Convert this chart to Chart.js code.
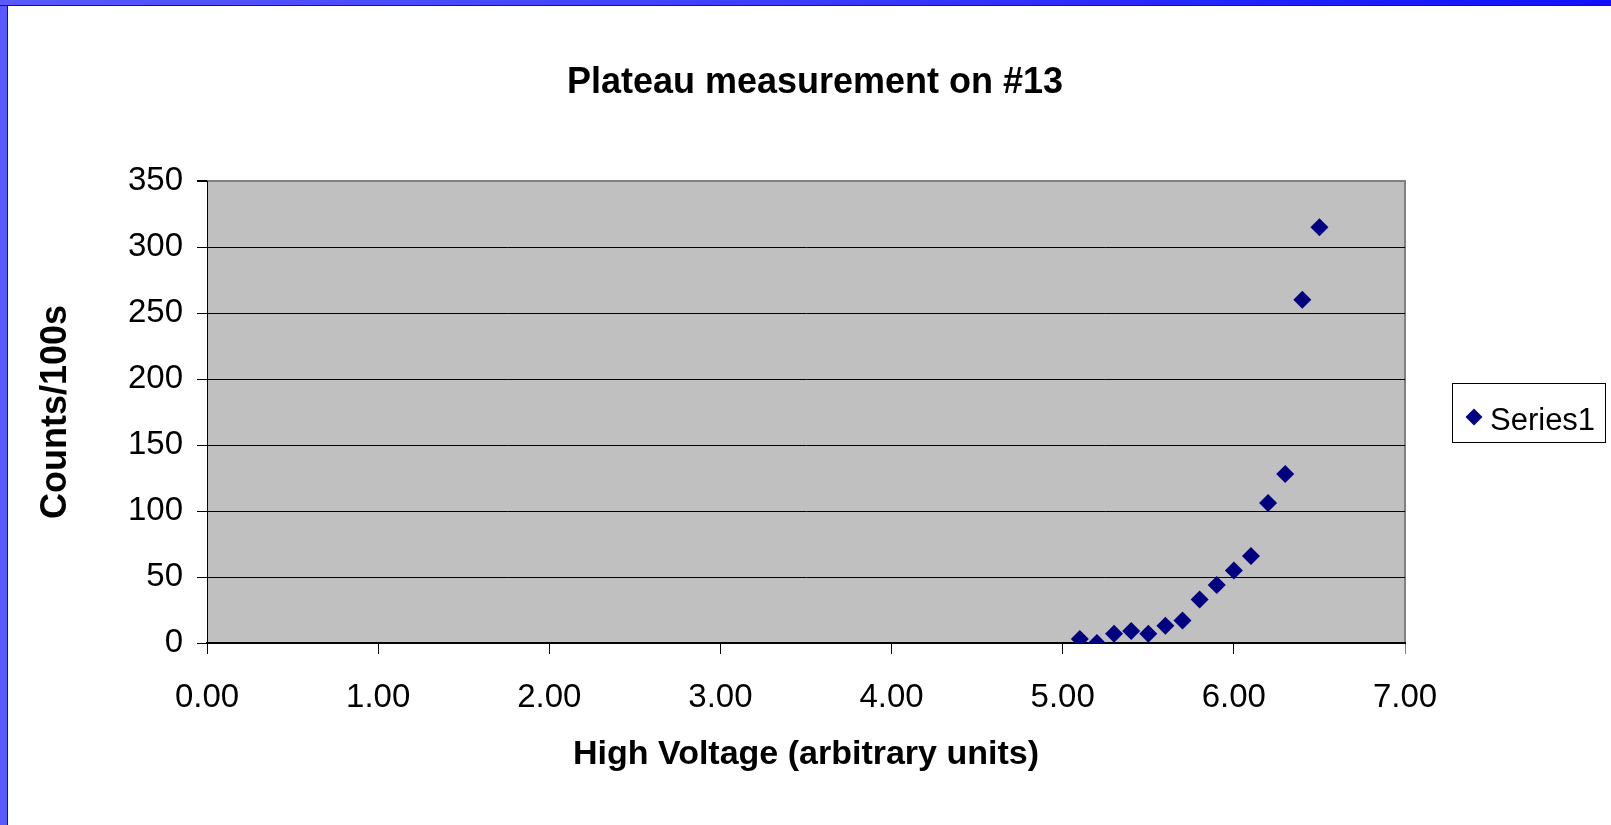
<!DOCTYPE html>
<html>
<head>
<meta charset="utf-8">
<script src="https://cdn.jsdelivr.net/npm/chart.js@4/dist/chart.umd.min.js"></script>
<style>
  html, body { margin: 0; padding: 0; background: #fff; }
  body { width: 1611px; height: 825px; position: relative; overflow: hidden; }
  #plateau { position: absolute; left: 0; top: 0; }
  .edge-left { position: absolute; left: 0; top: 0; width: 7px; height: 825px;
    background: #5a5aff; border-right: 1.5px solid #1c1c3c; }
  .edge-top { position: absolute; left: 0; top: 0; width: 1611px; height: 5px;
    background: linear-gradient(to right, #5a5aff, #3c3cff 50%, #1010ff);
    border-bottom: 1.5px solid #1c1c3c; }
</style>
</head>
<body>
<canvas id="plateau" width="1611" height="825"></canvas>
<div class="edge-left"></div>
<div class="edge-top"></div>
<script>
// high voltage (arbitrary units) and counts per 100 s
const voltage = [5.1, 5.2, 5.3, 5.4, 5.5, 5.6, 5.7, 5.8, 5.9, 6.0, 6.1, 6.2, 6.3, 6.4, 6.5];
const counts = [3, 0, 7, 9, 7, 13, 17, 33, 44, 55, 66, 106, 128, 260, 315];
const xTickLabels = ['0.00', '1.00', '2.00', '3.00', '4.00', '5.00', '6.00', '7.00'];
const yTickLabels = ['0', '50', '100', '150', '200', '250', '300', '350'];
const chartTitle = 'Plateau measurement on #13';

const FONT = '"Liberation Sans", Arial, sans-serif';

// gray plot area with its gray top/right edge, the title and the boxed legend
const plotBox = {
    id: 'plotBox',
    beforeDraw(chart) {
        const {ctx, chartArea: a} = chart;
        ctx.save();
        ctx.fillStyle = '#c0c0c0';
        ctx.fillRect(a.left, a.top, a.right - a.left, a.bottom - a.top);
        ctx.strokeStyle = '#808080';
        ctx.lineWidth = 2;
        ctx.beginPath();
        ctx.moveTo(a.left, a.top);
        ctx.lineTo(a.right, a.top);
        ctx.lineTo(a.right, a.bottom);
        ctx.stroke();
        ctx.restore();
    },
    afterDraw(chart) {
        const ctx = chart.ctx;
        const ds = chart.data.datasets[0];
        ctx.save();
        ctx.fillStyle = '#000';
        ctx.font = 'bold 36px ' + FONT;
        ctx.textAlign = 'center';
        ctx.textBaseline = 'middle';
        ctx.fillText(chartTitle, 815, 83);

        ctx.textAlign = 'left';
        ctx.fillStyle = '#fff';
        ctx.strokeStyle = '#000';
        ctx.lineWidth = 1;
        ctx.fillRect(1452.5, 383.5, 153, 59);
        ctx.strokeRect(1452.5, 383.5, 153, 59);
        ctx.fillStyle = ds.backgroundColor;
        Chart.helpers.drawPoint(ctx, {pointStyle: 'rectRot', radius: 8.5, rotation: 0, borderWidth: 0}, 1474, 417);
        ctx.fillStyle = '#000';
        ctx.font = '31px ' + FONT;
        ctx.textBaseline = 'alphabetic';
        ctx.fillText(ds.label, 1490, 430);
        ctx.restore();
    }
};

new Chart(document.getElementById('plateau'), {
    type: 'scatter',
    data: {
        datasets: [{
            label: 'Series1',
            data: voltage.map((v, i) => ({x: v, y: counts[i]})),
            backgroundColor: '#000080',
            borderColor: '#000080',
            pointStyle: 'rectRot',
            pointRadius: 9,
            pointBorderWidth: 0
        }]
    },
    options: {
        responsive: false,
        animation: false,
        layout: {padding: {left: 0, top: 181, right: 206, bottom: 0}},
        plugins: {
            legend: {display: false},
            tooltip: {enabled: false},
            title: {display: false}
        },
        scales: {
            x: {
                type: 'linear',
                min: 0,
                max: 7,
                afterFit: s => { s.height = 182; },
                ticks: {
                    stepSize: 1,
                    color: '#000',
                    padding: 24,
                    maxRotation: 0,
                    font: {family: FONT, size: 33},
                    callback: (v, i) => xTickLabels[i]
                },
                grid: {
                    drawOnChartArea: false,
                    drawTicks: true,
                    tickLength: 11,
                    tickColor: c => c.index === xTickLabels.length - 1 ? '#808080' : '#000'
                },
                border: {display: true, color: '#000', width: 2},
                title: {
                    display: true,
                    text: 'High Voltage (arbitrary units)',
                    color: '#000',
                    font: {family: FONT, size: 34, weight: 'bold'},
                    padding: {top: 0, bottom: 50}
                }
            },
            y: {
                min: 0,
                max: 350,
                afterFit: s => { s.width = 207; },
                ticks: {
                    stepSize: 50,
                    color: '#000',
                    padding: 14,
                    font: {family: FONT, size: 33},
                    callback: (v, i) => yTickLabels[i]
                },
                grid: {
                    color: c => c.tick && c.tick.value === 350 ? '#808080' : '#000',
                    lineWidth: c => c.tick && c.tick.value === 350 ? 2 : 1,
                    tickColor: '#000',
                    tickLength: 10
                },
                border: {display: true, color: '#000', width: 1},
                title: {
                    display: true,
                    text: 'Counts/100s',
                    color: '#000',
                    font: {family: FONT, size: 36, weight: 'bold'},
                    padding: {top: 34, bottom: 0}
                }
            }
        }
    },
    plugins: [plotBox]
});
</script>
</body>
</html>
